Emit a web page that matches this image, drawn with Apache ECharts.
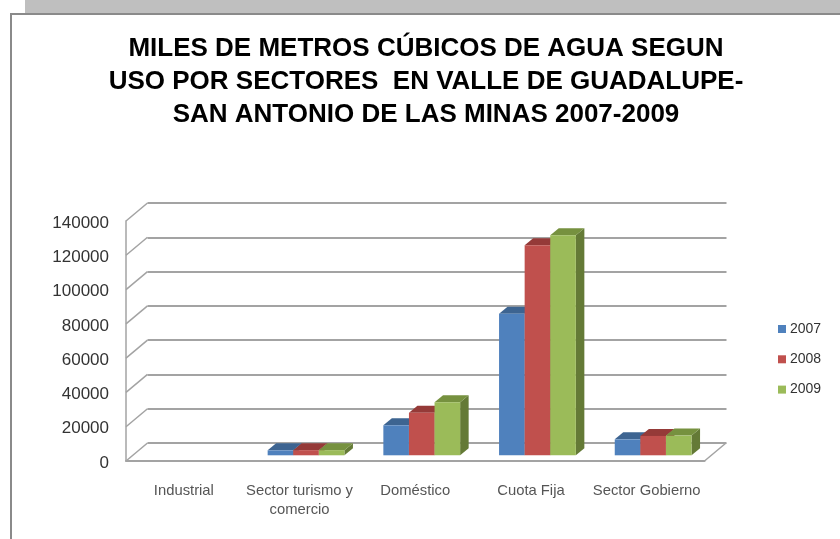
<!DOCTYPE html>
<html>
<head>
<meta charset="utf-8">
<title>Miles de metros cúbicos de agua</title>
<script src="https://cdn.jsdelivr.net/npm/echarts@6/dist/echarts.min.js"></script>
<style>
html, body { margin: 0; padding: 0; background: #fff; }
#chart { width: 840px; height: 539px; }
</style>
</head>
<body>
<div id="chart"></div>
<script>
var categories = ['Industrial', 'Sector turismo y\ncomercio', 'Doméstico', 'Cuota Fija', 'Sector Gobierno'];
var years = ['2007', '2008', '2009'];
var values2007 = [0, 2900, 17500, 82600, 9300];
var values2008 = [0, 3000, 24850, 122500, 11300];
var values2009 = [0, 3000, 30900, 128300, 11500];
var yTicks = [0, 20000, 40000, 60000, 80000, 100000, 120000, 140000];

var faceColors = ['#4f81bd', '#c0504d', '#9bbb59'];
var topColors = ['#3d6491', '#953a38', '#76913f'];
var sideColors = ['#355880', '#7f2f2d', '#647a36'];

// desplazamiento de la pared del fondo respecto al plano frontal
var wallDx = 21.5, wallDy = 18;
// las barras van a media profundidad
var barDx = 6.5, barDy = 5.7, barW = 25.6, depthX = 8.5, depthY = 7;
var wallColor = '#a3a3a3';

var chart = echarts.init(document.getElementById('chart'));

function renderBar(s) {
    return function (params, api) {
        var v = api.value(1);
        if (!v) return;
        var base = api.coord([api.value(0), 0]);
        var head = api.coord([api.value(0), v]);
        var x0 = base[0] + barDx - 1.5 * barW + s * barW;
        var x1 = x0 + barW;
        var y0 = base[1] - barDy;
        var y1 = head[1] - barDy;
        return {
            type: 'group',
            children: [
                { type: 'polygon', shape: { points: [[x1, y0], [x1 + depthX, y0 - depthY], [x1 + depthX, y1 - depthY], [x1, y1]] }, style: { fill: sideColors[s] } },
                { type: 'polygon', shape: { points: [[x0, y1], [x0 + depthX, y1 - depthY], [x1 + depthX, y1 - depthY], [x1, y1]] }, style: { fill: topColors[s] } },
                { type: 'rect', shape: { x: x0, y: y1, width: barW, height: y0 - y1 }, style: { fill: faceColors[s] } }
            ]
        };
    };
}

function barSeries(name, values, s) {
    return {
        name: name,
        type: 'custom',
        xAxisIndex: 0,
        yAxisIndex: 0,
        z: 5,
        itemStyle: { color: faceColors[s] },
        renderItem: renderBar(s),
        data: values.map(function (v, i) { return [i, v]; })
    };
}

// diagonales de la pared izquierda y borde derecho del piso
function renderWall(params, api) {
    var p = api.coord([0, api.value(0)]);
    var x = params.coordSys.x;
    var lines = [{
        type: 'line',
        shape: { x1: x, y1: p[1], x2: x + wallDx, y2: p[1] - wallDy },
        style: { stroke: wallColor, lineWidth: 1.5 }
    }];
    if (api.value(0) === 0) {
        var xr = x + params.coordSys.width;
        lines.push({
            type: 'line',
            shape: { x1: xr, y1: p[1], x2: xr + wallDx, y2: p[1] - wallDy },
            style: { stroke: wallColor, lineWidth: 1.5 }
        });
    }
    return { type: 'group', children: lines };
}

var option = {
    animation: false,
    backgroundColor: '#fff',
    title: {
        text: 'MILES DE METROS CÚBICOS DE AGUA SEGUN\nUSO POR SECTORES  EN VALLE DE GUADALUPE-\nSAN ANTONIO DE LAS MINAS 2007-2009',
        left: 421,
        top: 27,
        textAlign: 'center',
        textStyle: { fontFamily: 'Liberation Sans', fontSize: 26, fontWeight: 'bold', color: '#000', lineHeight: 33 }
    },
    legend: {
        orient: 'vertical',
        left: 773,
        top: 317,
        itemWidth: 8,
        itemHeight: 8,
        itemGap: 16.3,
        icon: 'rect',
        data: years,
        textStyle: { fontFamily: 'Liberation Sans', fontSize: 14, color: '#333', padding: [0, 0, 0, -1] }
    },
    grid: [
        { left: 126, top: 221, width: 578.5, height: 240 },
        { left: 147.5, top: 203, width: 579, height: 240 }
    ],
    xAxis: [
        {
            type: 'category',
            gridIndex: 0,
            data: categories,
            axisTick: { show: false },
            axisLine: { lineStyle: { color: wallColor, width: 2 } },
            axisLabel: { interval: 0, margin: 20, lineHeight: 19, fontFamily: 'Liberation Sans', fontSize: 14.8, color: '#555' }
        },
        {
            type: 'category',
            gridIndex: 1,
            data: categories,
            axisTick: { show: false },
            axisLine: { show: false },
            axisLabel: { show: false }
        }
    ],
    yAxis: [
        {
            type: 'value',
            gridIndex: 0,
            min: 0,
            max: 140000,
            interval: 20000,
            axisLine: { show: true, lineStyle: { color: wallColor, width: 1.5 } },
            axisTick: { show: false },
            splitLine: { show: false },
            axisLabel: {
                margin: 17,
                formatter: function (v) { return '{n|' + v + '}'; },
                rich: {
                    n: { padding: [4, 0, 0, 0], fontFamily: 'Liberation Sans', fontSize: 17, color: '#333' }
                }
            }
        },
        {
            type: 'value',
            gridIndex: 1,
            min: 0,
            max: 140000,
            interval: 20000,
            axisLine: { show: false },
            axisTick: { show: false },
            axisLabel: { show: false },
            splitLine: { show: true, lineStyle: { color: wallColor, width: 2 } }
        }
    ],
    series: [
        {
            type: 'custom',
            xAxisIndex: 0,
            yAxisIndex: 0,
            z: 1,
            silent: true,
            renderItem: renderWall,
            data: yTicks.map(function (t) { return [t]; })
        },
        barSeries(years[0], values2007, 0),
        barSeries(years[1], values2008, 1),
        barSeries(years[2], values2009, 2)
    ],
    graphic: [
        { type: 'rect', z: -10, shape: { x: 25, y: 0, width: 815, height: 13 }, style: { fill: '#bfbfbf' } },
        { type: 'polyline', z: -9, shape: { points: [[11, 539], [11, 14], [840, 14]] }, style: { stroke: '#8a8a8a', lineWidth: 2, fill: 'none' } }
    ]
};

chart.setOption(option);
</script>
</body>
</html>
